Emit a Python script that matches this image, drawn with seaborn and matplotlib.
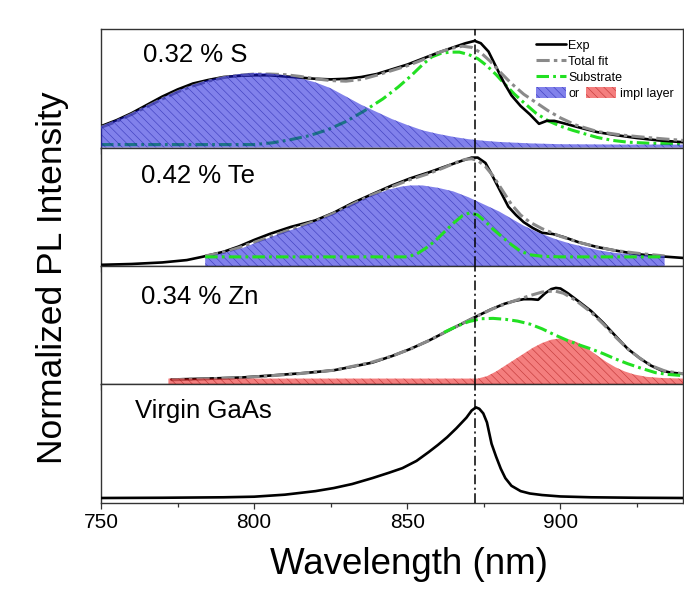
import numpy as np
import pandas as pd
import matplotlib
matplotlib.use("Agg")
import matplotlib.pyplot as plt
from matplotlib.lines import Line2D
from matplotlib.patches import Patch, Rectangle
import seaborn as sns

# ---------------- data (normalized PL intensity per panel) ----------------
# 0.32 % S
s_exp_wl = [750, 755, 760, 765, 770, 775, 780, 785, 790, 795, 800, 805, 810, 815, 820, 825, 830, 835, 840, 845,
            850, 855, 860, 865, 869, 872, 874, 876.5, 879, 881.5, 884, 887, 890, 893, 895.5, 898, 901, 906, 912,
            918, 925, 932, 940]
s_exp = [0.18, 0.23, 0.29, 0.36, 0.43, 0.49, 0.54, 0.57, 0.595, 0.605, 0.61, 0.61, 0.60, 0.59, 0.58, 0.575, 0.58,
         0.595, 0.62, 0.66, 0.70, 0.75, 0.80, 0.845, 0.88, 0.90, 0.88, 0.81, 0.68, 0.55, 0.44, 0.35, 0.28, 0.20,
         0.225, 0.225, 0.205, 0.17, 0.13, 0.105, 0.08, 0.06, 0.045]
s_fit_wl = [750, 755, 760, 765, 770, 775, 780, 785, 790, 795, 800, 805, 810, 815, 820, 825, 830, 835, 840, 845,
            850, 855, 860, 864, 868, 871, 874, 877, 880, 884, 888, 892, 896, 900, 905, 912, 920, 928, 935, 940]
s_fit = [0.17, 0.22, 0.28, 0.345, 0.41, 0.47, 0.52, 0.56, 0.59, 0.61, 0.62, 0.62, 0.615, 0.60, 0.58, 0.565, 0.56,
         0.575, 0.61, 0.65, 0.69, 0.74, 0.80, 0.835, 0.855, 0.845, 0.80, 0.73, 0.645, 0.54, 0.45, 0.38, 0.31,
         0.25, 0.19, 0.135, 0.105, 0.085, 0.07, 0.06]
s_sub_wl = [750, 800, 806, 812, 818, 824, 830, 836, 842, 847, 851, 855, 858, 861, 864, 867, 870, 873, 876, 879,
            882, 885, 888, 892, 896, 900, 904, 908, 912, 917, 922, 930, 940]
s_sub = [0.025, 0.025, 0.04, 0.067, 0.10, 0.15, 0.22, 0.31, 0.41, 0.51, 0.60, 0.70, 0.765, 0.795, 0.805, 0.805,
         0.785, 0.75, 0.69, 0.615, 0.53, 0.45, 0.38, 0.29, 0.225, 0.18, 0.145, 0.115, 0.085, 0.06, 0.045, 0.035, 0.03]
s_lay_wl = [750, 755, 760, 765, 770, 775, 780, 785, 790, 795, 800, 805, 810, 815, 820, 825, 830, 835, 840, 845,
            850, 855, 860, 865, 870, 875, 880, 890, 900, 920, 940]
s_lay = [0.18, 0.235, 0.29, 0.355, 0.42, 0.48, 0.53, 0.57, 0.60, 0.62, 0.63, 0.625, 0.61, 0.585, 0.55, 0.50, 0.43,
         0.36, 0.30, 0.24, 0.19, 0.145, 0.115, 0.09, 0.07, 0.057, 0.047, 0.035, 0.028, 0.025, 0.025]

# 0.42 % Te
te_exp_wl = [750, 760, 770, 778, 783, 790, 795, 800, 805, 812, 820, 826, 832, 838, 845, 851, 857, 863, 868, 871,
             873, 875.5, 877, 879, 881, 883, 885.5, 888, 891, 894, 897.5, 901, 906, 912, 918, 925, 931, 940]
te_exp = [0.01, 0.017, 0.03, 0.05, 0.077, 0.12, 0.165, 0.22, 0.27, 0.33, 0.385, 0.45, 0.53, 0.60, 0.68, 0.74,
          0.79, 0.845, 0.89, 0.915, 0.915, 0.87, 0.80, 0.70, 0.60, 0.50, 0.43, 0.37, 0.32, 0.28, 0.27, 0.245,
          0.20, 0.16, 0.13, 0.10, 0.085, 0.068]
te_fit_wl = [784, 790, 795, 800, 805, 812, 820, 826, 832, 838, 845, 851, 857, 862, 866, 869, 871, 873, 875.5,
             878, 881, 884, 887, 890, 894, 900, 906, 912, 918, 926, 934]
te_fit = [0.085, 0.115, 0.155, 0.20, 0.245, 0.31, 0.38, 0.445, 0.52, 0.595, 0.67, 0.73, 0.78, 0.83, 0.875, 0.90,
          0.905, 0.89, 0.84, 0.76, 0.64, 0.52, 0.43, 0.37, 0.315, 0.25, 0.20, 0.16, 0.13, 0.105, 0.085]
te_sub_wl = [784, 850, 853, 856, 859, 862, 865, 868, 870.5, 873, 875.5, 878, 881, 884, 887, 890, 894, 900, 934]
te_sub = [0.077, 0.077, 0.10, 0.15, 0.21, 0.285, 0.36, 0.425, 0.45, 0.43, 0.375, 0.31, 0.245, 0.18, 0.125,
          0.095, 0.082, 0.077, 0.077]
te_lay_wl = [784, 790, 796, 802, 808, 814, 820, 826, 832, 838, 844, 848, 851, 855, 860, 865, 870, 875, 880, 884,
             888, 893, 898, 903, 908, 913, 918, 924, 929, 934]
te_lay = [0.077, 0.11, 0.15, 0.21, 0.27, 0.32, 0.375, 0.44, 0.52, 0.59, 0.645, 0.67, 0.68, 0.68, 0.66, 0.63,
          0.58, 0.52, 0.46, 0.40, 0.34, 0.28, 0.23, 0.19, 0.16, 0.13, 0.11, 0.097, 0.09, 0.085]

# 0.34 % Zn
zn_exp_wl = [773, 785, 796, 805, 814, 820, 826, 832, 838.6, 845, 851, 857, 863, 868, 873, 877, 881.6, 885, 888,
             890.5, 892.7, 895, 897, 898.5, 900, 902.4, 906, 910, 914, 918.5, 922, 926, 929.5, 933, 936, 940]
zn_exp = [0.042, 0.05, 0.059, 0.075, 0.092, 0.105, 0.12, 0.15, 0.185, 0.24, 0.30, 0.37, 0.45, 0.515, 0.58, 0.63,
          0.68, 0.705, 0.72, 0.72, 0.715, 0.77, 0.805, 0.815, 0.81, 0.77, 0.70, 0.62, 0.52, 0.395, 0.30, 0.22,
          0.16, 0.118, 0.10, 0.09]
zn_fit_wl = [773, 785, 796, 805, 814, 826, 838, 845, 851, 857, 863, 868, 873, 878, 882, 886, 890, 894, 898, 901,
             905, 910, 914, 918, 922, 926, 930, 934, 940]
zn_fit = [0.04, 0.048, 0.058, 0.073, 0.09, 0.12, 0.185, 0.24, 0.30, 0.37, 0.45, 0.515, 0.58, 0.64, 0.68, 0.715,
          0.75, 0.78, 0.79, 0.77, 0.71, 0.61, 0.51, 0.40, 0.30, 0.22, 0.155, 0.115, 0.09]
zn_sub_wl = [862, 866, 870, 874, 878, 882, 886, 890, 894, 898, 902, 906, 910, 914, 918, 922, 926, 931, 935, 940]
zn_sub = [0.44, 0.49, 0.53, 0.555, 0.558, 0.55, 0.535, 0.51, 0.47, 0.42, 0.375, 0.335, 0.30, 0.26, 0.215, 0.175,
          0.14, 0.10, 0.085, 0.075]
zn_lay_wl = [772, 873, 876, 879, 882, 885, 888, 891, 894, 897, 900, 903, 906, 909, 912, 915, 918, 921, 924, 928,
             933, 940]
zn_lay = [0.05, 0.05, 0.07, 0.11, 0.16, 0.21, 0.26, 0.31, 0.35, 0.378, 0.39, 0.38, 0.35, 0.30, 0.245, 0.19,
          0.145, 0.11, 0.085, 0.065, 0.055, 0.05]

# Virgin GaAs
v_exp_wl = [750, 770, 790, 800, 810, 815, 820, 826, 832, 838.6, 844, 848.4, 853, 857, 860, 863, 866, 869.3, 871,
            872.4, 873.5, 874.8, 876, 877.5, 879, 880.5, 882, 884, 887, 890, 894, 900, 910, 925, 940]
v_exp = [0.042, 0.044, 0.048, 0.053, 0.07, 0.085, 0.10, 0.126, 0.16, 0.21, 0.255, 0.294, 0.355, 0.43, 0.49,
         0.555, 0.63, 0.72, 0.78, 0.807, 0.795, 0.756, 0.68, 0.50, 0.39, 0.29, 0.21, 0.145, 0.10, 0.08, 0.067,
         0.055, 0.048, 0.044, 0.042]

panel_labels = ["0.32 % S", "0.42 % Te", "0.34 % Zn", "Virgin GaAs"]
label_pos = [(0.072, 0.723), (0.069, 0.70), (0.069, 0.68), (0.058, 0.714)]
substrate_peak = 872
x_ticks = [750, 800, 850, 900]

# ---------------- style ----------------
sns.set_theme(style="white")
plt.rcParams["font.family"] = ["Liberation Sans", "DejaVu Sans"]
plt.rcParams["lines.scale_dashes"] = False
plt.rcParams["hatch.linewidth"] = 0.45
for key in ("text.color", "axes.labelcolor", "xtick.color", "ytick.color"):
    plt.rcParams[key] = "black"

EXP_C = "black"
FIT_C = "#8a8a8a"
SUB_C = "#22e022"
BLUE_FACE = (0.10, 0.10, 0.86)
BLUE_HATCH = (0.05, 0.05, 0.62)
RED_FACE = (0.92, 0.08, 0.08)
RED_HATCH = (0.62, 0.02, 0.02)
FILL_ALPHA = 0.55
FIT_LS = (0, (9.5, 3.0, 2.5, 3.0))
SUB_LS = (0, (9.0, 3.0, 2.0, 3.0))
VLINE_LS = (0, (7.0, 2.5, 1.5, 2.5))
HATCH = "\\\\\\\\"

fig, axes = plt.subplots(4, 1, figsize=(6.84, 5.9), dpi=100, sharex=True,
                         gridspec_kw=dict(hspace=0))
fig.subplots_adjust(left=0.1477, right=0.9985, top=0.9508, bottom=0.1475)


def line(ax, wl, y, **kw):
    df = pd.DataFrame({"wl": wl, "y": y})
    sns.lineplot(data=df, x="wl", y="y", ax=ax, sort=False, estimator=None, legend=False, **kw)


# (exp, fit, substrate, layer, layer colour, substrate drawn above the layer fill)
panels = [
    (s_exp_wl, s_exp, s_fit_wl, s_fit, s_sub_wl, s_sub, s_lay_wl, s_lay, "blue", False),
    (te_exp_wl, te_exp, te_fit_wl, te_fit, te_sub_wl, te_sub, te_lay_wl, te_lay, "blue", True),
    (zn_exp_wl, zn_exp, zn_fit_wl, zn_fit, zn_sub_wl, zn_sub, zn_lay_wl, zn_lay, "red", True),
    (v_exp_wl, v_exp, None, None, None, None, None, None, None, False),
]

for ax, p, lab, lp in zip(axes, panels, panel_labels, label_pos):
    ewl, ey, fwl, fy, swl, sy, lwl, ly, kind, sub_on_top = p
    if swl is not None:
        line(ax, swl, sy, color=SUB_C, linewidth=2.2, linestyle=SUB_LS, zorder=5.5 if sub_on_top else 2)
    line(ax, ewl, ey, color=EXP_C, linewidth=1.9, zorder=3)
    if fwl is not None:
        line(ax, fwl, fy, color=FIT_C, linewidth=2.2, linestyle=FIT_LS, zorder=4)
    if lwl is not None:
        face, hatch_c = (BLUE_FACE, BLUE_HATCH) if kind == "blue" else (RED_FACE, RED_HATCH)
        ax.fill_between(lwl, 0, ly, facecolor=face, edgecolor=hatch_c, hatch=HATCH,
                        linewidth=0, alpha=FILL_ALPHA, zorder=5)
    ax.axvline(substrate_peak, color="black", linewidth=1.1, linestyle=VLINE_LS, zorder=6)
    ax.text(lp[0], lp[1], lab, transform=ax.transAxes, fontsize=18.5, ha="left", va="baseline")
    ax.set_ylim(0, 1)
    ax.set_yticks([])
    ax.set_ylabel("")
    ax.set_xlabel("")
    for sp in ax.spines.values():
        sp.set_color("#333333")
        sp.set_linewidth(1.0)
    ax.tick_params(axis="x", which="major", direction="out", length=4.5, width=0.9, color="#333333",
                   bottom=True, labelsize=15, pad=3)
    ax.tick_params(axis="x", which="minor", direction="out", length=2.6, width=0.9, color="#333333",
                   bottom=True)

axes[-1].set_xlim(750, 940)
axes[-1].set_xticks(x_ticks)
axes[-1].xaxis.set_minor_locator(matplotlib.ticker.MultipleLocator(25))
axes[-1].set_xlabel("Wavelength (nm)", fontsize=26.5)
axes[-1].xaxis.set_label_coords(0.529, -0.375)
fig.text(0.077, 0.53, "Normalized PL Intensity", rotation=90, fontsize=25.5, ha="center", va="center")

# ---------------- legend ----------------
ax0 = axes[0]
handles = [
    Line2D([], [], color=EXP_C, linewidth=1.9),
    Line2D([], [], color=FIT_C, linewidth=2.2, linestyle=FIT_LS),
    Line2D([], [], color=SUB_C, linewidth=2.2, linestyle=SUB_LS),
    Patch(facecolor=BLUE_FACE, edgecolor=BLUE_HATCH, hatch=HATCH, alpha=FILL_ALPHA, linewidth=0),
]
leg = ax0.legend(handles, ["Exp", "Total fit", "Substrate", "or"], loc="upper left",
                 bbox_to_anchor=(0.743, 0.94), frameon=False, fontsize=9, handlelength=2.4,
                 handleheight=1.0, handletextpad=0.2, labelspacing=0.25, borderpad=0.2, borderaxespad=0)

fig.canvas.draw()
renderer = fig.canvas.get_renderer()
or_text = leg.get_texts()[-1]
blue_handle = leg.legend_handles[-1]
tb = or_text.get_window_extent(renderer)
hb = blue_handle.get_window_extent(renderer)
inv = ax0.transAxes.inverted()
(hx0, hy0), (hx1, hy1) = inv.transform([[hb.x0, hb.y0], [hb.x1, hb.y1]])
(tx0, ty0), (tx1, ty1) = inv.transform([[tb.x0, tb.y0], [tb.x1, tb.y1]])
gap = 6 / 582
red_x = tx1 + gap
ax0.add_patch(Rectangle((red_x, hy0), hx1 - hx0, hy1 - hy0, transform=ax0.transAxes,
                        facecolor=RED_FACE, edgecolor=RED_HATCH, hatch=HATCH, alpha=FILL_ALPHA,
                        linewidth=0, zorder=7, clip_on=False))
ax0.text(red_x + (hx1 - hx0) + 4 / 582, (ty0 + ty1) / 2, "impl layer", transform=ax0.transAxes,
         fontsize=9, ha="left", va="center", zorder=7)

fig.savefig("out.png", dpi=100)
